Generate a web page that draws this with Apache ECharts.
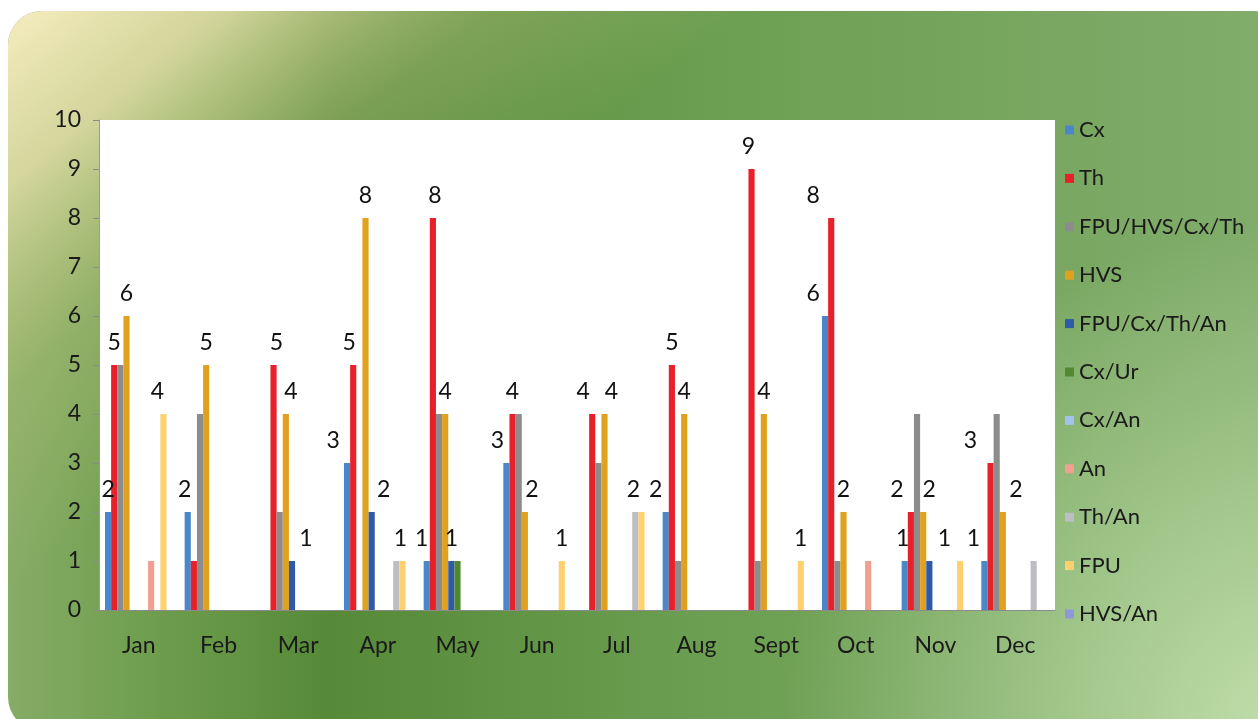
<!DOCTYPE html>
<html>
<head>
<meta charset="utf-8">
<script src="https://cdn.jsdelivr.net/npm/echarts@6/dist/echarts.min.js"></script>
<style>
  html, body { margin: 0; padding: 0; background: #fff; }
  #main { width: 1258px; height: 719px; }
</style>
</head>
<body>
<div id="main"></div>
<script>
const months = ['Jan', 'Feb', 'Mar', 'Apr', 'May', 'Jun', 'Jul', 'Aug', 'Sept', 'Oct', 'Nov', 'Dec']
const yTicks = [0, 1, 2, 3, 4, 5, 6, 7, 8, 9, 10]

const names = ['Cx', 'Th', 'FPU/HVS/Cx/Th', 'HVS', 'FPU/Cx/Th/An', 'Cx/Ur',
    'Cx/An', 'An', 'Th/An', 'FPU', 'HVS/An']

const cx     = [2, 2, 0, 3, 1, 3, 0, 2, 0, 6, 1, 1]
const th     = [5, 1, 5, 5, 8, 4, 4, 5, 9, 8, 2, 3]
const fhct   = [5, 4, 2, 0, 4, 4, 3, 1, 1, 1, 4, 4]
const hvs    = [6, 5, 4, 8, 4, 2, 4, 4, 4, 2, 2, 2]
const fcta   = [0, 0, 1, 2, 1, 0, 0, 0, 0, 0, 1, 0]
const cxUr   = [0, 0, 0, 0, 1, 0, 0, 0, 0, 0, 0, 0]
const cxAn   = [0, 0, 0, 0, 0, 0, 0, 0, 0, 0, 0, 0]
const an     = [1, 0, 0, 0, 0, 0, 0, 0, 0, 1, 0, 0]
const thAn   = [0, 0, 0, 1, 0, 0, 2, 0, 0, 0, 0, 1]
const fpu    = [4, 0, 0, 1, 0, 1, 2, 0, 1, 0, 1, 0]
const hvsAn  = [0, 0, 0, 0, 0, 0, 0, 0, 0, 0, 0, 0]

const values = [cx, th, fhct, hvs, fcta, cxUr, cxAn, an, thAn, fpu, hvsAn]

const colors = ['#4a86c8', '#e8202a', '#8c8c8c', '#e0a21e', '#2f5aaa', '#4f8a30',
    '#9fc3ea', '#f0a090', '#bdbdc4', '#ffd070', '#8e98d8']

// which bars carry a value label, and how far it is nudged sideways (null = no label)
const N = null
const labelDx = [
    [0, -3, N, -14, -5, -9, N, -10, N, -12, -2, -11],
    [0, N, 3, -4, 2, 0, -9, 0, -3, -18, -14, -20],
    null,
    [0, 0, 5, 0, 0, 7, 7, 0, 0, 0, 6, 13],
    [N, N, 14, 12, 0, N, N, N, N, N, 15, N],
    null, null, null, null,
    [-6, N, N, -2, N, 0, -8, N, 0, N, N, N],
    null,
]

const font = 'Lato, "Open Sans", sans-serif'

let series = names.map((name, s) => ({
    name: name,
    type: 'bar',
    barGap: '0%',
    barCategoryGap: '15%',
    itemStyle: { color: colors[s] },
    data: values[s].map((v, i) => {
        const dx = labelDx[s] ? labelDx[s][i] : null
        return {
            value: v,
            label: {
                show: dx !== null && dx !== undefined,
                position: 'top',
                distance: 5,
                offset: [dx || 0, -6],
                color: '#111',
                fontSize: 23,
                fontFamily: font,
            }
        }
    })
}))

let chart = echarts.init(document.getElementById('main'))
chart.setOption({
    animation: false,
    textStyle: { fontFamily: font },
    graphic: [
        {
            type: 'rect',
            z: -10,
            shape: { x: 8, y: 11, width: 1280, height: 720, r: 34 },
            style: {
                fill: new echarts.graphic.LinearGradient(0, 0, 1, 0, [
                    { offset: 0, color: '#86ac66' },
                    { offset: 0.12, color: '#6d9d4c' },
                    { offset: 0.25, color: '#568a38' },
                    { offset: 0.55, color: '#6c9f52' },
                    { offset: 1, color: '#82ad6c' },
                ])
            }
        },
        {
            type: 'rect',
            z: -9,
            shape: { x: 8, y: 11, width: 1280, height: 720, r: 34 },
            style: {
                fill: new echarts.graphic.LinearGradient(0, 0, 0.22, 0.5, [
                    { offset: 0, color: 'rgba(246,236,190,1)' },
                    { offset: 0.3, color: 'rgba(226,222,168,0.85)' },
                    { offset: 0.65, color: 'rgba(185,195,125,0.35)' },
                    { offset: 1, color: 'rgba(185,195,125,0)' },
                ])
            }
        },
        {
            type: 'rect',
            z: -9,
            shape: { x: 8, y: 11, width: 1280, height: 720, r: 34 },
            style: {
                fill: new echarts.graphic.RadialGradient(1, 1, 0.7, [
                    { offset: 0, color: 'rgba(200,228,178,0.9)' },
                    { offset: 1, color: 'rgba(200,228,178,0)' },
                ])
            }
        },
    ],
    grid: {
        left: 99,
        right: 203,
        top: 120,
        bottom: 109,
        show: true,
        backgroundColor: '#ffffff',
        borderWidth: 0,
    },
    legend: {
        orient: 'vertical',
        left: 1060,
        top: 114,
        itemWidth: 9,
        itemHeight: 9,
        itemGap: 26.4,
        icon: 'rect',
        textStyle: { fontSize: 22, color: '#1a1a1a', fontFamily: font },
        data: names,
    },
    xAxis: {
        type: 'category',
        data: months,
        axisLine: { lineStyle: { color: '#8a8a8a', width: 1 } },
        axisTick: { show: false },
        axisLabel: { fontSize: 23, color: '#1a1a1a', margin: 24 },
    },
    yAxis: {
        type: 'value',
        min: yTicks[0],
        max: yTicks[yTicks.length - 1],
        interval: 1,
        splitLine: { show: false },
        axisLine: { show: true, lineStyle: { color: '#9a9a9a' } },
        axisTick: { show: true, length: 6, lineStyle: { color: '#8a8a8a' } },
        axisLabel: { fontSize: 23, color: '#1a1a1a', margin: 18 },
    },
    series: series,
})
</script>
</body>
</html>
